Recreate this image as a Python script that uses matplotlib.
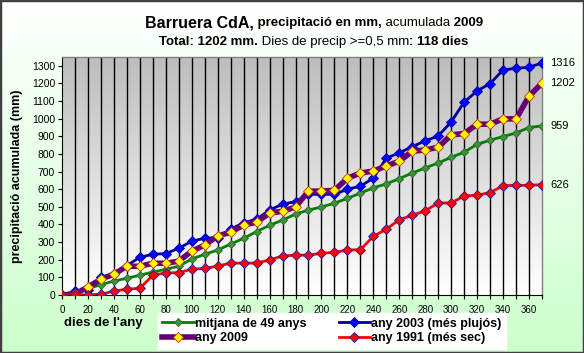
import numpy as np
import matplotlib
matplotlib.use("Agg")
import matplotlib.pyplot as plt
from matplotlib.colors import LinearSegmentedColormap

plt.rcParams['font.family'] = ['Liberation Sans', 'DejaVu Sans']

# ---------------- data ----------------
days = list(range(0, 371, 10))
mitjana = [0, 10, 35, 59, 79, 95, 112, 130, 146, 163,
           204, 231, 255, 289, 321, 360, 395, 425, 459, 482,
           499, 521, 548, 578, 608, 630, 660, 692, 721, 749,
           781, 810, 855, 878, 899, 919, 950, 959]
any2003 = [0, 21, 28, 100, 121, 167, 214, 231, 235, 265,
           305, 322, 326, 373, 410, 430, 482, 515, 530, 571,
           571, 571, 600, 617, 663, 776, 806, 842, 874, 902,
           982, 1094, 1158, 1199, 1277, 1286, 1292, 1316]
any2009 = [0, 6, 45, 90, 118, 163, 163, 180, 180, 192,
           249, 283, 335, 356, 397, 413, 465, 475, 499, 589,
           589, 594, 662, 692, 703, 732, 759, 815, 823, 838,
           908, 916, 969, 969, 999, 999, 1128, 1202]
any1991 = [0, 0, 1, 4, 22, 33, 38, 112, 125, 127,
           146, 151, 164, 181, 181, 181, 199, 221, 226, 226,
           237, 242, 255, 257, 333, 373, 427, 452, 478, 522,
           522, 562, 566, 581, 620, 622, 622, 626]
labels = ["mitjana de 49 anys", "any 2003 (més plujós)", "any 2009", "any 1991 (més sec)"]
xticks_major = list(range(0, 361, 20))
yticks = list(range(0, 1301, 100))

W, H = 584, 353
fig = plt.figure(figsize=(W / 100, H / 100), dpi=100)

# figure background gradient
bg = fig.add_axes([0, 0, 1, 1], zorder=-10)
grad = np.linspace(0, 1, 256).reshape(-1, 1)
cm_bg = LinearSegmentedColormap.from_list("bg", ["#ffffff", "#ccffcc"])
bg.imshow(grad, aspect='auto', cmap=cm_bg, extent=[0, 1, 0, 1], origin='upper')
bg.set_axis_off()
bg.add_patch(plt.Rectangle((0, 0), 1, 1, transform=bg.transAxes, fill=False,
                           edgecolor="#404040", linewidth=2.5))

left, right, top, bottom = 62, 542, 57, 295
ax = fig.add_axes([left / W, 1 - bottom / H, (right - left) / W, (bottom - top) / H])
ax.set_facecolor('none')
cm_pa = LinearSegmentedColormap.from_list("pa", ["#bdbdbd", "#ffffff"])
ax.imshow(grad, aspect='auto', cmap=cm_pa, extent=[0, 1, 0, 1], origin='upper',
          transform=ax.transAxes, zorder=0)

ax.set_xlim(0, 370)
ax.set_ylim(0, 1350)
ax.set_xticks(xticks_major)
ax.set_xticks(list(range(10, 371, 20)), minor=True)
ax.set_yticks(yticks)
ax.tick_params(axis='y', labelsize=7.5, length=3, width=0.8, color="#000000", pad=2)
ax.tick_params(axis='x', labelsize=7, length=3, width=0.8, color="#000000", pad=4)
ax.tick_params(axis='x', which='minor', length=3, width=0.8)
for x in range(10, 370, 10):
    ax.axvline(x, color='black', linewidth=1.0, zorder=1)

for s in ['left', 'bottom']:
    ax.spines[s].set_color('#000000')
    ax.spines[s].set_linewidth(0.8)
for s in ['top', 'right']:
    ax.spines[s].set_color('#808080')
    ax.spines[s].set_linewidth(1.0)

l1, = ax.plot(days, mitjana, color='#008000', lw=2, marker='D', ms=4.5,
              mfc='#3f8f3f', mec='#2a6a2a', mew=0.6, zorder=3)
l2, = ax.plot(days, any2003, color='#000099', lw=2, marker='D', ms=5,
              mfc='#0000ff', mec='#0000aa', mew=0.6, zorder=4)
l3, = ax.plot(days, any2009, color='#660077', lw=4, marker='D', ms=5.5,
              mfc='#ffff00', mec='#cc3300', mew=0.6, zorder=5)
l4, = ax.plot(days, any1991, color='#ff0000', lw=2, marker='D', ms=5,
              mfc='#ff0000', mec='#2020a0', mew=0.6, zorder=6)

for v in [any2003[-1], any2009[-1], mitjana[-1], any1991[-1]]:
    ax.annotate(f"{v}", xy=(370, v), xytext=(6, 0), textcoords='offset points',
                va='center', ha='left', fontsize=8, annotation_clip=False)

ax.set_ylabel("precipitació acumulada (mm)", fontsize=9, fontweight='bold', labelpad=6)
fig.text(103 / W, 1 - 323 / H, "dies de l'any", fontsize=9.5, fontweight='bold',
         ha='center', va='center')

leg = fig.legend([l1, l3, l2, l4], [labels[0], labels[2], labels[1], labels[3]],
                 ncol=2, loc='center', bbox_to_anchor=(332 / W, 1 - 331 / H),
                 prop={'weight': 'bold', 'size': 9}, frameon=True, fancybox=False,
                 edgecolor='white', facecolor='white', framealpha=1,
                 handlelength=2.5, columnspacing=2.6, labelspacing=0.2,
                 borderpad=0.35, handletextpad=0.1)

# title built from pieces
fig.canvas.draw()
renderer = fig.canvas.get_renderer()

def line_of_pieces(pieces, yc):
    objs = []
    for txt, size, weight in pieces:
        t = fig.text(0, yc, txt, fontsize=size, fontweight=weight, va='center', ha='left')
        objs.append(t)
    widths = [o.get_window_extent(renderer).width for o in objs]
    total = sum(widths)
    x = 314 - total / 2
    for o, w in zip(objs, widths):
        o.set_x(x / W)
        x += w

line_of_pieces([("Barruera CdA,", 11.5, 'bold'), (" precipitació en mm,", 9.5, 'bold'),
                (" acumulada", 9.5, 'normal'), (" 2009", 9.5, 'bold')], 1 - 23 / H)
line_of_pieces([("Total: 1202 mm.", 9.5, 'bold'), (" Dies de precip >=0,5 mm", 9.5, 'normal'),
                (": 118 dies", 9.5, 'bold')], 1 - 42 / H)

fig.savefig("out.png", dpi=100)
